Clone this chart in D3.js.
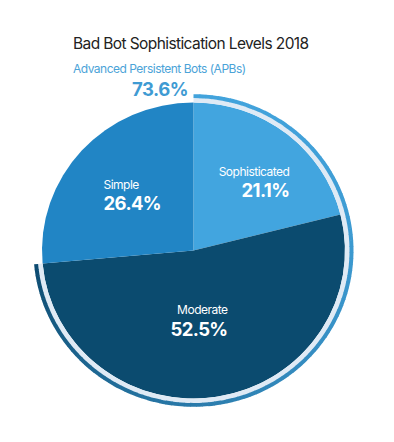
<!DOCTYPE html>
<html>
<head>
<meta charset="utf-8">
<script src="https://cdn.jsdelivr.net/npm/d3@7"></script>
<style>
  body { margin: 0; background: #fff; }
  svg { display: block; font-family: Inter, "Noto Sans", sans-serif; }
</style>
</head>
<body>
<svg id="chart" width="394" height="442"></svg>
<script>
// data
var categories = ['Sophisticated', 'Moderate', 'Simple'];
var values = [21.1, 52.5, 26.4];
var apbLabel = 'Advanced Persistent Bots (APBs)';
var apbValue = 73.6; // sophisticated + moderate
var title = 'Bad Bot Sophistication Levels 2018';

var colors = ['#42a5df', '#0b4b6f', '#2185c5'];

var width = 394, height = 442;
var cx = 193.5, cy = 250.5;
var r = 151.5;

var svg = d3.select('#chart');

svg.append('text')
  .attr('x', 73).attr('y', 49)
  .attr('font-size', 15.5)
  .attr('letter-spacing', -0.6)
  .attr('fill', '#222')
  .text(title);

svg.append('text')
  .attr('x', 73).attr('y', 73)
  .attr('font-size', 12)
  .attr('letter-spacing', -0.5)
  .attr('fill', '#4ba3d8')
  .text(apbLabel);

svg.append('text')
  .attr('x', 160).attr('y', 96)
  .attr('text-anchor', 'middle')
  .attr('font-size', 18.5)
  .attr('letter-spacing', -0.5)
  .attr('font-weight', 700)
  .attr('fill', '#3f9bd3')
  .text(apbValue.toFixed(1) + '%');

// pie (picture is slightly squashed vertically)
var g = svg.append('g')
  .attr('transform', 'translate(' + cx + ',' + cy + ') scale(1,0.977)');

var pie = d3.pie().sort(null).value(d => d);
var arcs = pie(values);

var arc = d3.arc().innerRadius(0).outerRadius(r);

g.selectAll('.slice')
  .data(arcs)
  .enter()
  .append('path')
  .attr('class', 'slice')
  .attr('d', arc)
  .attr('fill', (d, i) => colors[i]);

// APB ring: light band + gradient stroke
var apbEnd = 2 * Math.PI * apbValue / 100;

g.append('path')
  .attr('d', d3.arc().innerRadius(r).outerRadius(r + 5)
    .startAngle(0).endAngle(apbEnd)())
  .attr('fill', '#dfeaf5');

var nSeg = 120;
var ringColor = d3.interpolateRgb('#42a3dc', '#0c4a6f');
var segs = d3.range(nSeg);
var ringArc = d3.arc().innerRadius(r + 4.5).outerRadius(r + 8.5);
g.selectAll('.ring')
  .data(segs)
  .enter()
  .append('path')
  .attr('class', 'ring')
  .attr('d', i => ringArc({
    startAngle: apbEnd * i / nSeg,
    endAngle: Math.min(apbEnd, apbEnd * (i + 1) / nSeg + 0.004)
  }))
  .attr('fill', i => ringColor(Math.pow(i / nSeg, 2)));

// labels
var labelArc = d3.arc().innerRadius(r * 0.6).outerRadius(r * 0.6);
var labelTweak = {
  'Sophisticated': { anchor: 'end', dx: 40, dy: -4, gap: 21 },
  'Moderate': { anchor: 'end', dx: 19, dy: -24, gap: 22 },
  'Simple': { anchor: 'start', dx: -23, dy: -2, gap: 21 }
};

var labels = svg.selectAll('.label')
  .data(arcs)
  .enter()
  .append('g')
  .attr('class', 'label')
  .attr('transform', (d, i) => {
    var c = labelArc.centroid(d);
    var t = labelTweak[categories[i]];
    return 'translate(' + (cx + c[0] + t.dx) + ',' + (cy + c[1] * 0.977 + t.dy) + ')';
  });

labels.append('text')
  .attr('text-anchor', (d, i) => labelTweak[categories[i]].anchor)
  .attr('font-size', 12)
  .attr('letter-spacing', -0.5)
  .attr('fill', '#fff')
  .text((d, i) => categories[i]);

labels.append('text')
  .attr('y', (d, i) => labelTweak[categories[i]].gap)
  .attr('text-anchor', (d, i) => labelTweak[categories[i]].anchor)
  .attr('font-size', 18.5)
  .attr('letter-spacing', -0.6)
  .attr('font-weight', 700)
  .attr('fill', '#fff')
  .text((d, i) => values[i].toFixed(1) + '%');
</script>
</body>
</html>
